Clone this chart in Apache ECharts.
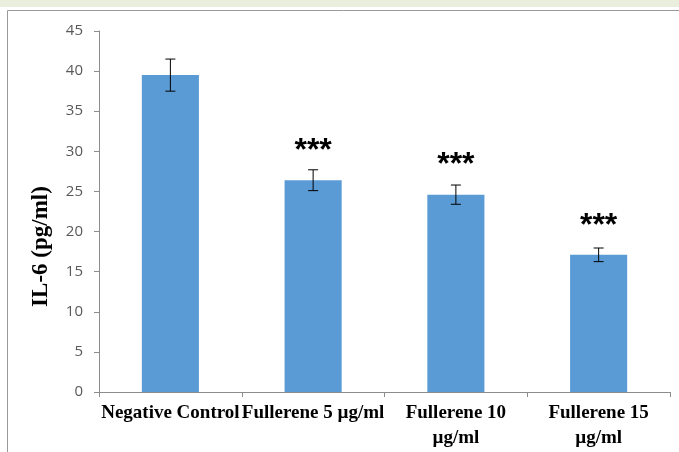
<!DOCTYPE html>
<html>
<head>
<meta charset="utf-8">
<style>
  html, body { margin: 0; padding: 0; background: #ffffff; }
  #chart { width: 679px; height: 452px; }
</style>
<script src="https://cdn.jsdelivr.net/npm/echarts@6/dist/echarts.min.js"></script>
</head>
<body>
<div id="chart"></div>
<script>
// Treatment groups on the x axis
const categories = ['Negative Control', 'Fullerene 5 µg/ml', 'Fullerene 10\nµg/ml', 'Fullerene 15\nµg/ml'];
// Mean IL-6 concentration (pg/ml)
const il6Mean = [39.5, 26.4, 24.6, 17.1];
// Standard deviation of each group
const il6Sd = [2.0, 1.3, 1.2, 0.85];
// Significance markers shown above each bar
const significance = ['', '***', '***', '***'];
// Y axis range
const yMin = 0, yMax = 45, yStep = 5;

const chart = echarts.init(document.getElementById('chart'), null, { renderer: 'canvas' });

const errorData = il6Mean.map((m, i) => [i, m - il6Sd[i], m + il6Sd[i]]);

chart.setOption({
  animation: false,
  backgroundColor: '#ffffff',
  graphic: [
    { type: 'rect', shape: { x: 0, y: 0, width: 679, height: 7 }, style: { fill: '#eaeedd' }, silent: true },
    { type: 'rect', shape: { x: 7.5, y: 10.5, width: 700, height: 480 }, style: { fill: 'none', stroke: '#9a9a9a', lineWidth: 1 }, silent: true }
  ],
  grid: { left: 99, right: 9, top: 31, bottom: 60, containLabel: false },
  xAxis: {
    type: 'category',
    data: categories,
    axisLine: { lineStyle: { color: '#8c8c8c' } },
    axisTick: { show: true, length: 5, lineStyle: { color: '#8c8c8c' } },
    axisLabel: {
      interval: 0,
      color: '#000000',
      fontFamily: 'Liberation Serif',
      fontWeight: 'bold',
      fontSize: 19,
      lineHeight: 25,
      margin: 9
    }
  },
  yAxis: {
    type: 'value',
    min: yMin, max: yMax, interval: yStep,
    name: 'IL-6 (pg/ml)',
    nameLocation: 'middle',
    nameGap: 46,
    nameTextStyle: {
      color: '#000000', fontFamily: 'Liberation Serif', fontWeight: 'bold', fontSize: 23,
      padding: [0, 70, 0, 0]
    },
    splitLine: { show: false },
    axisLine: { show: true, lineStyle: { color: '#8c8c8c' } },
    axisTick: { show: true, length: 5, lineStyle: { color: '#8c8c8c' } },
    axisLabel: { color: '#595959', fontFamily: 'Open Sans', fontSize: 15, margin: 16 }
  },
  series: [
    {
      type: 'bar',
      data: il6Mean,
      barWidth: '40%',
      itemStyle: { color: '#5b9bd5' },
      label: {
        show: true,
        position: 'top',
        distance: 13,
        formatter: p => significance[p.dataIndex],
        color: '#000000',
        fontFamily: 'Liberation Sans',
        fontWeight: 'bold',
        fontSize: 32
      },
      z: 2
    },
    {
      type: 'custom',
      data: errorData,
      z: 3,
      renderItem: function (params, api) {
        const x = api.value(0);
        const lo = api.coord([x, api.value(1)]);
        const hi = api.coord([x, api.value(2)]);
        const cap = 5;
        const style = { stroke: '#000000', lineWidth: 1 };
        return {
          type: 'group',
          children: [
            { type: 'line', shape: { x1: lo[0], y1: lo[1], x2: hi[0], y2: hi[1] }, style },
            { type: 'line', shape: { x1: hi[0] - cap, y1: hi[1], x2: hi[0] + cap, y2: hi[1] }, style },
            { type: 'line', shape: { x1: lo[0] - cap, y1: lo[1], x2: lo[0] + cap, y2: lo[1] }, style }
          ]
        };
      }
    }
  ]
});
</script>
</body>
</html>
